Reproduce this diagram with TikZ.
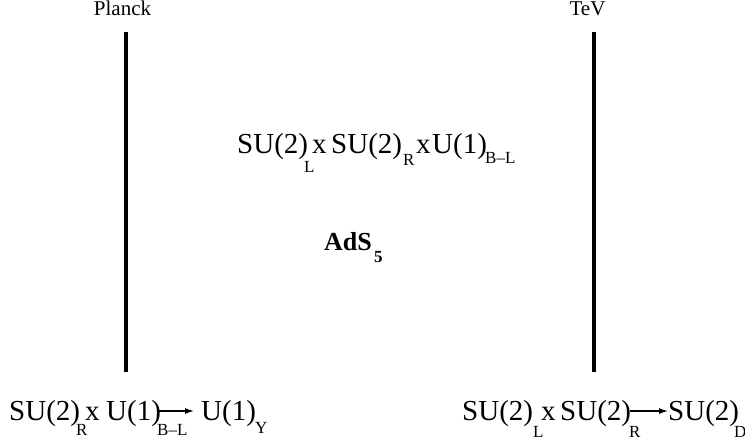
\documentclass[tikz,border=0pt]{standalone}
\usepackage{fontspec}
\setmainfont{Liberation Serif}
\usetikzlibrary{arrows.meta}
\begin{document}
\begin{tikzpicture}[x=1pt,y=-1pt,
  big/.style={inner sep=0pt,anchor=base west,font=\fontsize{29}{31}\selectfont},
  sub/.style={inner sep=0pt,anchor=base west,font=\fontsize{17}{18}\selectfont},
  bigb/.style={inner sep=0pt,anchor=base west,font=\fontsize{26}{28}\selectfont\bfseries},
  subb/.style={inner sep=0pt,anchor=base west,font=\fontsize{17}{18}\selectfont\bfseries},
  small/.style={inner sep=0pt,anchor=base,font=\fontsize{21}{22}\selectfont},
  wall/.style={line width=4.5pt},
  brk/.style={line width=1.2pt,-{Latex[length=9pt,width=6pt]}}]
\useasboundingbox (0,0) rectangle (745,440);
% branes
\coordinate (p1) at (126,32);
\coordinate (p2) at (126,372);
\coordinate (q1) at (594,32);
\coordinate (q2) at (594,372);
\draw[wall] (p1) -- (p2);
\draw[wall] (q1) -- (q2);
\node[small] (planck) at (122.5,15) {Planck};
\node[small] (tev) at (587.5,15) {TeV};
% bulk group
\node[big] (t1) at (237,153) {SU(2)};
\node[sub] (t1s) at (304,172) {L};
\node[big] (t2) at (312,153) {x};
\node[big] (t3) at (331,153) {SU(2)};
\node[sub] (t3s) at (403,165) {R};
\node[big] (t4) at (416,153) {x};
\node[big] (t5) at (432,153) {U(1)};
\node[sub] (t5s) at (485,163) {B--L};
% AdS5
\node[bigb] (ads) at (324,250) {AdS};
\node[subb] (ads5) at (374,262) {5};
% Planck brane breaking
\node[big] (b1) at (9,420) {SU(2)};
\node[sub] (b1s) at (76,435) {R};
\node[big] (b2) at (85,420) {x};
\node[big] (b3) at (106,420) {U(1)};
\node[sub] (b3s) at (157,435) {B--L};
\coordinate (a1s) at (157,411);
\coordinate (a1e) at (194,411);
\draw[brk] (a1s) -- (a1e);
\node[big] (b4) at (201,420) {U(1)};
\node[sub] (b4s) at (255,433) {Y};
% TeV brane breaking
\node[big] (c1) at (462,420) {SU(2)};
\node[sub] (c1s) at (533,437) {L};
\node[big] (c2) at (541,420) {x};
\node[big] (c3) at (560,420) {SU(2)};
\node[sub] (c3s) at (629,437) {R};
\coordinate (a2s) at (630,411);
\coordinate (a2e) at (668,411);
\draw[brk] (a2s) -- (a2e);
\node[big] (c4) at (668,420) {SU(2)};
\node[sub] (c4s) at (734,437) {D};
\end{tikzpicture}
\end{document}
